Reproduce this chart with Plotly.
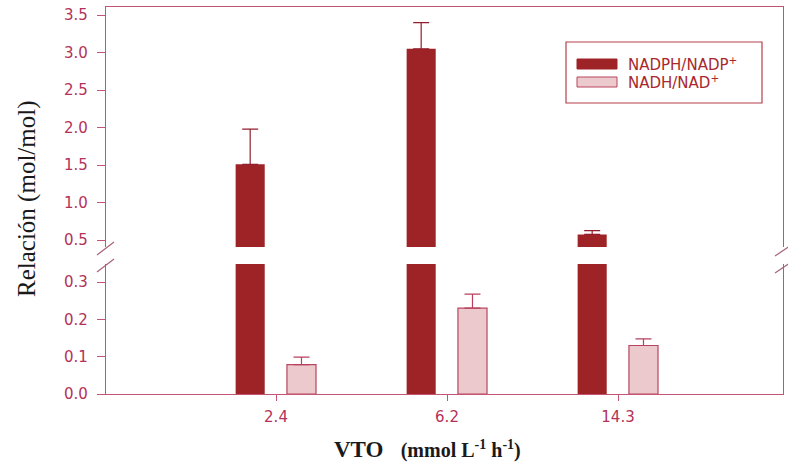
import plotly.graph_objects as go

# ---- data ----
categories = ["2.4", "6.2", "14.3"]
nadph_values = [1.51, 3.05, 0.575]
nadph_errors = [0.47, 0.35, 0.05]
nadh_values = [0.079, 0.23, 0.13]
nadh_errors = [0.02, 0.038, 0.018]
series_names = ["NADPH/NADP<sup>+</sup>", "NADH/NAD<sup>+</sup>"]

# ---- style ----
W, H = 788, 464
ML, MR, MT, MB = 106, 5, 7, 70
PW, PH = W - ML - MR, H - MT - MB
DARK = "#9e2327"
LIGHT = "#ecc9cc"
LIGHT_EDGE = "#b8465e"
AXIS = "#c45473"
TICKC = "#b3325a"
TXT_LEG = "#a8282c"


def px(x):
    return (x - ML) / PW


def py(y):
    return (H - MB - y) / PH


x_range = [-(276 - ML) / 171.0, (W - MR - 276) / 171.0]
low_dom = [0, py(264)]
up_dom = [py(247), 1]

fig = go.Figure()

# upper panel dark bars
fig.add_trace(go.Bar(
    x=categories, y=nadph_values, xaxis="x2", yaxis="y2",
    width=0.17, offset=-0.236, marker=dict(color=DARK, line=dict(width=0)),
    error_y=dict(type="data", array=nadph_errors, arrayminus=[0] * 3,
                 symmetric=False, color="#921f2e", thickness=1.2, width=8),
    showlegend=False, name=series_names[0]))
# lower panel dark bars (clipped)
fig.add_trace(go.Bar(
    x=categories, y=nadph_values, xaxis="x", yaxis="y",
    width=0.17, offset=-0.236, marker=dict(color=DARK, line=dict(width=0)),
    showlegend=False, name=series_names[0]))
# lower panel light bars
fig.add_trace(go.Bar(
    x=categories, y=nadh_values, xaxis="x", yaxis="y",
    width=0.17, offset=0.064,
    marker=dict(color=LIGHT, line=dict(color=LIGHT_EDGE, width=1.2)),
    error_y=dict(type="data", array=nadh_errors, arrayminus=[0] * 3,
                 symmetric=False, color="#b8405e", thickness=1.2, width=8),
    showlegend=False, name=series_names[1]))

tickfont = dict(family="DejaVu Sans", size=15, color=TICKC)

fig.update_layout(
    width=W, height=H,
    margin=dict(l=ML, r=MR, t=MT, b=MB),
    paper_bgcolor="white", plot_bgcolor="white",
    barmode="overlay", showlegend=False,
    xaxis=dict(type="category", range=x_range, domain=[0, 1], anchor="y",
               showline=True, linecolor=AXIS, linewidth=1.2,
               ticks="outside", ticklen=6, tickcolor=AXIS,
               tickfont=tickfont, ticklabelstandoff=3,
               showgrid=False, zeroline=False),
    xaxis2=dict(type="category", range=x_range, domain=[0, 1], anchor="y2",
                matches="x", side="top", showline=True, linecolor=AXIS,
                linewidth=1.2, ticks="", showticklabels=False,
                showgrid=False, zeroline=False),
    yaxis=dict(domain=low_dom, range=[0, 0.3485], anchor="x",
               tickvals=[0.0, 0.1, 0.2, 0.3], ticktext=["0.0", "0.1", "0.2", "0.3"],
               showline=True, mirror=True, linecolor=AXIS, linewidth=1.2,
               ticks="outside", ticklen=8, tickcolor=AXIS,
               tickfont=tickfont, ticklabelstandoff=6,
               showgrid=False, zeroline=False),
    yaxis2=dict(domain=up_dom, range=[0.407, 3.607], anchor="x2",
                tickvals=[0.5, 1.0, 1.5, 2.0, 2.5, 3.0, 3.5],
                ticktext=["0.5", "1.0", "1.5", "2.0", "2.5", "3.0", "3.5"],
                showline=True, mirror=True, linecolor=AXIS, linewidth=1.2,
                ticks="outside", ticklen=8, tickcolor=AXIS,
                tickfont=tickfont, ticklabelstandoff=6,
                showgrid=False, zeroline=False),
)

shapes = []
# axis break marks
for (xa, ya, xb, yb) in [(97, 255, 114, 242), (97, 272, 114, 259),
                         (775, 256, 790, 246), (775, 273, 790, 263)]:
    shapes.append(dict(type="line", xref="paper", yref="paper",
                       x0=px(xa), y0=py(ya), x1=px(xb), y1=py(yb),
                       line=dict(color="#a86476", width=1.2)))
# legend box and swatches
shapes.append(dict(type="rect", xref="paper", yref="paper",
                   x0=px(566), y0=py(103), x1=px(762), y1=py(42),
                   line=dict(color="#b5404a", width=1.2), fillcolor="white"))
shapes.append(dict(type="rect", xref="paper", yref="paper",
                   x0=px(577), y0=py(69), x1=px(617), y1=py(59),
                   line=dict(color=DARK, width=1), fillcolor=DARK))
shapes.append(dict(type="rect", xref="paper", yref="paper",
                   x0=px(577), y0=py(87), x1=px(617), y1=py(77),
                   line=dict(color=LIGHT_EDGE, width=1), fillcolor=LIGHT))
fig.update_layout(shapes=shapes)

annotations = [
    dict(text=series_names[0], xref="paper", yref="paper", x=px(626), y=py(64),
         xanchor="left", yanchor="middle", showarrow=False,
         font=dict(family="DejaVu Sans", size=15, color=TXT_LEG)),
    dict(text=series_names[1], xref="paper", yref="paper", x=px(626), y=py(82),
         xanchor="left", yanchor="middle", showarrow=False,
         font=dict(family="DejaVu Sans", size=15, color=TXT_LEG)),
    dict(text="Relación (mol/mol)", xref="paper", yref="paper",
         x=px(27), y=py(199), xanchor="center", yanchor="middle",
         textangle=-90, showarrow=False,
         font=dict(family="Liberation Serif", size=25, color="#1a1a1a")),
    dict(text="<b>VTO</b>&nbsp;&nbsp;&nbsp;<span style='font-size:20px'><b>(mmol L<sup>-1</sup> h<sup>-1</sup>)</b></span>",
         xref="paper", yref="paper", x=px(427), y=py(449),
         xanchor="center", yanchor="middle", showarrow=False,
         font=dict(family="Liberation Serif", size=23, color="#1a1a1a")),
]
fig.update_layout(annotations=annotations)

fig.write_html("out.html")
